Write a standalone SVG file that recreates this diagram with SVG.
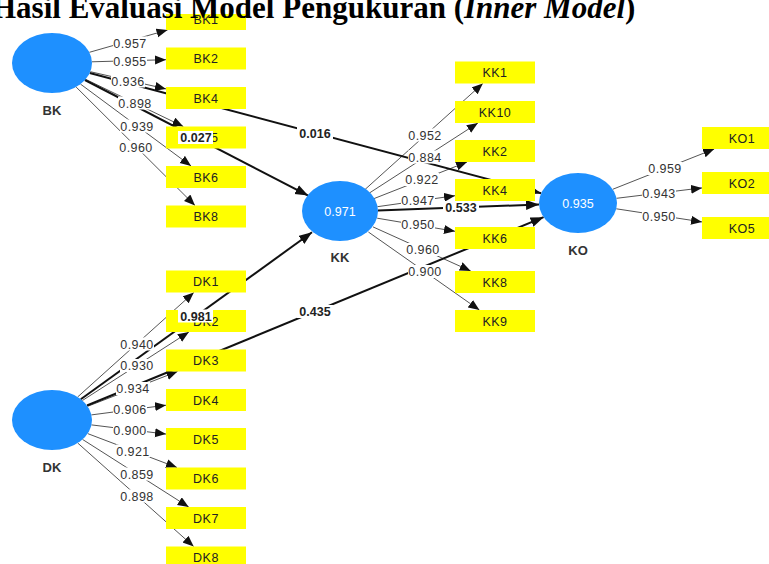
<svg xmlns="http://www.w3.org/2000/svg" width="769" height="564" viewBox="0 0 769 564">
<style>
.ld{stroke:#555;stroke-width:1;fill:none;marker-end:url(#a1)}
.pt{stroke:#111;stroke-width:2;fill:none;marker-end:url(#a2)}
.lat{fill:#1E90FF}
.box{fill:#FFFF00}
.bt{font-family:"Liberation Sans",Arial,sans-serif;font-size:12.5px;fill:#222;text-anchor:middle;letter-spacing:0.5px}
.lt{font-family:"Liberation Sans",Arial,sans-serif;font-size:12.5px;fill:#333;text-anchor:middle;letter-spacing:0.4px}
.pl{font-family:"Liberation Sans",Arial,sans-serif;font-size:12.5px;font-weight:bold;fill:#222;text-anchor:middle}
.lb{fill:#fff}
.r2{font-family:"Liberation Sans",Arial,sans-serif;font-size:12.5px;fill:#fff;text-anchor:middle}
.nm{font-family:"Liberation Sans",Arial,sans-serif;font-size:13px;font-weight:bold;fill:#333;text-anchor:middle}
.tt{font-family:"Liberation Serif","Times New Roman",serif;font-size:31px;font-weight:bold;fill:#000}
</style>
<defs>
<marker id="a1" markerUnits="userSpaceOnUse" markerWidth="12" markerHeight="10" refX="11" refY="4.5" orient="auto"><path d="M0,0 L11,4.5 L0,9 z" fill="#111"/></marker>
<marker id="a2" markerUnits="userSpaceOnUse" markerWidth="14" markerHeight="12" refX="13" refY="5" orient="auto"><path d="M0,0 L13,5 L0,10 z" fill="#111"/></marker>
</defs>
<rect width="769" height="564" fill="#fff"/>
<g id="connectors">
<line class="ld" x1="89.4" y1="52.3" x2="167.5" y2="30"/>
<line class="ld" x1="92" y1="61.8" x2="166" y2="59.7"/>
<line class="ld" x1="90.3" y1="71.7" x2="166" y2="88.9"/>
<line class="ld" x1="85.6" y1="79.3" x2="183.3" y2="126.5"/>
<line class="ld" x1="80.5" y1="84.1" x2="191.1" y2="166"/>
<line class="ld" x1="76.1" y1="87" x2="195" y2="205.5"/>
<line class="ld" x1="365.1" y1="189.4" x2="482.8" y2="83.5"/>
<line class="ld" x1="369.4" y1="193" x2="477.9" y2="123"/>
<line class="ld" x1="374" y1="198.6" x2="467" y2="162"/>
<line class="ld" x1="377.4" y1="206.7" x2="455" y2="195.7"/>
<line class="ld" x1="377.2" y1="218.2" x2="455" y2="231.3"/>
<line class="ld" x1="373" y1="226.9" x2="470.7" y2="271"/>
<line class="ld" x1="368.4" y1="232" x2="479.4" y2="310"/>
<line class="ld" x1="612.7" y1="189.3" x2="714.2" y2="149"/>
<line class="ld" x1="616.5" y1="198.3" x2="702" y2="187.9"/>
<line class="ld" x1="616.3" y1="208.8" x2="702" y2="221.9"/>
<line class="ld" x1="77.6" y1="397" x2="193.8" y2="292.5"/>
<line class="ld" x1="82.4" y1="400.5" x2="188.9" y2="332"/>
<line class="ld" x1="87.6" y1="406.3" x2="177.5" y2="371.5"/>
<line class="ld" x1="91.4" y1="414.9" x2="166" y2="405.2"/>
<line class="ld" x1="91.5" y1="424.9" x2="166" y2="434.1"/>
<line class="ld" x1="87.7" y1="433.6" x2="177" y2="467.5"/>
<line class="ld" x1="82.5" y1="439.4" x2="188.7" y2="507"/>
<line class="ld" x1="77.7" y1="443" x2="193.7" y2="546.5"/>
<line class="pt" x1="84.9" y1="80" x2="308.2" y2="195.6"/>
<line class="pt" x1="89.7" y1="73" x2="541.1" y2="193.2"/>
<line class="pt" x1="378" y1="210.6" x2="539" y2="204.5"/>
<line class="pt" x1="80.8" y1="399.2" x2="312" y2="232.3"/>
<line class="pt" x1="87" y1="405.5" x2="543.6" y2="217.2"/>
</g>
<g id="BK"><ellipse class="lat" cx="52" cy="63" rx="40" ry="30"/><text class="nm" x="52" y="115">BK</text></g>
<g id="KK"><ellipse class="lat" cx="340" cy="211" rx="38" ry="30"/><text class="r2" x="340" y="215.5">0.971</text><text class="nm" x="340" y="262">KK</text></g>
<g id="KO"><ellipse class="lat" cx="578" cy="203" rx="39" ry="30"/><text class="r2" x="578" y="207.5">0.935</text><text class="nm" x="578" y="255">KO</text></g>
<g id="DK"><ellipse class="lat" cx="52" cy="420" rx="40" ry="30"/><text class="nm" x="52" y="472">DK</text></g>
<g id="BK1"><rect class="box" x="166" y="8" width="80" height="22"/><text class="bt" x="206" y="24">BK1</text></g>
<g id="BK2"><rect class="box" x="166" y="47.5" width="80" height="22"/><text class="bt" x="206" y="63">BK2</text></g>
<g id="BK4"><rect class="box" x="166" y="87" width="80" height="22"/><text class="bt" x="206" y="102.5">BK4</text></g>
<g id="BK5"><rect class="box" x="166" y="126.5" width="80" height="22"/><text class="bt" x="206" y="142">BK5</text></g>
<g id="BK6"><rect class="box" x="166" y="166" width="80" height="22"/><text class="bt" x="206" y="181.5">BK6</text></g>
<g id="BK8"><rect class="box" x="166" y="205.5" width="80" height="22"/><text class="bt" x="206" y="221">BK8</text></g>
<g id="KK1"><rect class="box" x="455" y="61.5" width="80" height="22"/><text class="bt" x="495" y="77">KK1</text></g>
<g id="KK10"><rect class="box" x="455" y="101" width="80" height="22"/><text class="bt" x="495" y="116.5">KK10</text></g>
<g id="KK2"><rect class="box" x="455" y="140" width="80" height="22"/><text class="bt" x="495" y="155.5">KK2</text></g>
<g id="KK4"><rect class="box" x="455" y="179" width="80" height="22"/><text class="bt" x="495" y="194.5">KK4</text></g>
<g id="KK6"><rect class="box" x="455" y="227" width="80" height="22"/><text class="bt" x="495" y="242.5">KK6</text></g>
<g id="KK8"><rect class="box" x="455" y="271" width="80" height="22"/><text class="bt" x="495" y="286.5">KK8</text></g>
<g id="KK9"><rect class="box" x="455" y="310" width="80" height="22"/><text class="bt" x="495" y="325.5">KK9</text></g>
<g id="KO1"><rect class="box" x="702" y="127" width="80" height="22"/><text class="bt" x="742" y="142.5">KO1</text></g>
<g id="KO2"><rect class="box" x="702" y="172" width="80" height="22"/><text class="bt" x="742" y="187.5">KO2</text></g>
<g id="KO5"><rect class="box" x="702" y="217" width="80" height="22"/><text class="bt" x="742" y="232.5">KO5</text></g>
<g id="DK1"><rect class="box" x="166" y="270.5" width="80" height="22"/><text class="bt" x="206" y="286">DK1</text></g>
<g id="DK2"><rect class="box" x="166" y="310" width="80" height="22"/><text class="bt" x="206" y="325.5">DK2</text></g>
<g id="DK3"><rect class="box" x="166" y="349.5" width="80" height="22"/><text class="bt" x="206" y="365">DK3</text></g>
<g id="DK4"><rect class="box" x="166" y="389" width="80" height="22"/><text class="bt" x="206" y="404.5">DK4</text></g>
<g id="DK5"><rect class="box" x="166" y="428" width="80" height="22"/><text class="bt" x="206" y="443.5">DK5</text></g>
<g id="DK6"><rect class="box" x="166" y="467.5" width="80" height="22"/><text class="bt" x="206" y="483">DK6</text></g>
<g id="DK7"><rect class="box" x="166" y="507" width="80" height="22"/><text class="bt" x="206" y="522.5">DK7</text></g>
<g id="DK8"><rect class="box" x="166" y="546.5" width="80" height="22"/><text class="bt" x="206" y="562">DK8</text></g>
<g id="labels">
<rect class="lb" x="113" y="36.5" width="34" height="13"/><text class="lt" x="130" y="47.5">0.957</text>
<rect class="lb" x="113" y="55" width="34" height="13"/><text class="lt" x="130" y="66">0.955</text>
<rect class="lb" x="111" y="74.5" width="34" height="13"/><text class="lt" x="128" y="85.5">0.936</text>
<rect class="lb" x="118" y="96.5" width="34" height="13"/><text class="lt" x="135" y="107.5">0.898</text>
<rect class="lb" x="120" y="119.5" width="34" height="13"/><text class="lt" x="137" y="130.5">0.939</text>
<rect class="lb" x="119" y="140.5" width="34" height="13"/><text class="lt" x="136" y="151.5">0.960</text>
<rect class="lb" x="408" y="128.5" width="34" height="13"/><text class="lt" x="425" y="139.5">0.952</text>
<rect class="lb" x="408" y="150.5" width="34" height="13"/><text class="lt" x="425" y="161.5">0.884</text>
<rect class="lb" x="405" y="173" width="34" height="13"/><text class="lt" x="422" y="184">0.922</text>
<rect class="lb" x="401" y="194" width="34" height="13"/><text class="lt" x="418" y="205">0.947</text>
<rect class="lb" x="401" y="218" width="34" height="13"/><text class="lt" x="418" y="229">0.950</text>
<rect class="lb" x="406" y="243" width="34" height="13"/><text class="lt" x="423" y="254">0.960</text>
<rect class="lb" x="408" y="265" width="34" height="13"/><text class="lt" x="425" y="276">0.900</text>
<rect class="lb" x="648" y="162" width="34" height="13"/><text class="lt" x="665" y="173">0.959</text>
<rect class="lb" x="642" y="186.5" width="34" height="13"/><text class="lt" x="659" y="197.5">0.943</text>
<rect class="lb" x="642" y="209.5" width="34" height="13"/><text class="lt" x="659" y="220.5">0.950</text>
<rect class="lb" x="120" y="337.5" width="34" height="13"/><text class="lt" x="137" y="348.5">0.940</text>
<rect class="lb" x="120" y="359" width="34" height="13"/><text class="lt" x="137" y="370">0.930</text>
<rect class="lb" x="116" y="382" width="34" height="13"/><text class="lt" x="133" y="393">0.934</text>
<rect class="lb" x="113" y="403" width="34" height="13"/><text class="lt" x="130" y="414">0.906</text>
<rect class="lb" x="113" y="423.5" width="34" height="13"/><text class="lt" x="130" y="434.5">0.900</text>
<rect class="lb" x="116" y="444.5" width="34" height="13"/><text class="lt" x="133" y="455.5">0.921</text>
<rect class="lb" x="120" y="467.5" width="34" height="13"/><text class="lt" x="137" y="478.5">0.859</text>
<rect class="lb" x="120" y="489.5" width="34" height="13"/><text class="lt" x="137" y="500.5">0.898</text>
<rect class="lb" x="297" y="126.5" width="36" height="13"/><text class="pl" x="315" y="137.5">0.016</text>
<rect class="lb" x="178" y="131" width="35" height="13"/><text class="pl" x="196" y="142">0.027</text>
<rect class="lb" x="443" y="201" width="36" height="13"/><text class="pl" x="461" y="212">0.533</text>
<rect class="lb" x="178" y="309.5" width="35" height="13"/><text class="pl" x="196" y="320.5">0.981</text>
<rect class="lb" x="297" y="305" width="36" height="13"/><text class="pl" x="315" y="316">0.435</text>
</g>
<rect x="0" y="0" width="769" height="14" fill="#fff"/>
<text class="tt" x="-8" y="18">Hasil Evaluasi Model Pengukuran (<tspan font-style="italic">Inner Model</tspan>)</text>
</svg>
